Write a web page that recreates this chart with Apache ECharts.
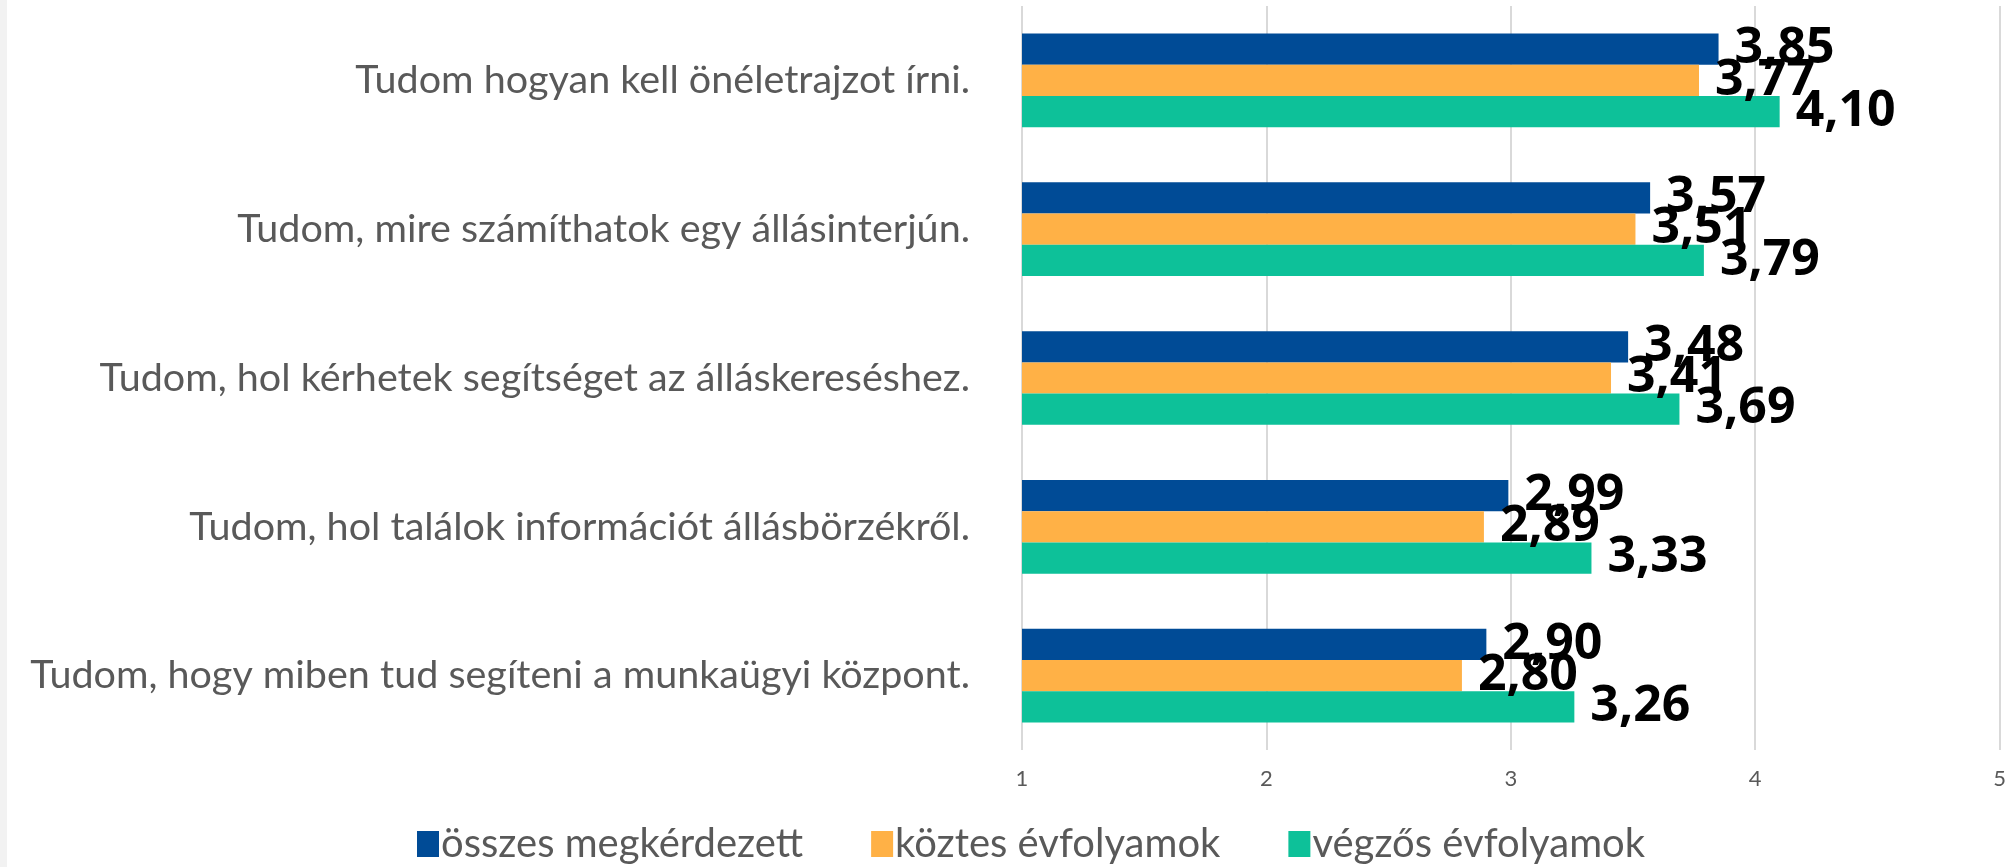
<!DOCTYPE html>
<html>
<head>
<meta charset="utf-8">
<script src="https://cdn.jsdelivr.net/npm/echarts@6/dist/echarts.min.js"></script>
<style>
  html, body { margin: 0; padding: 0; background: #fff; }
  #chart { width: 2009px; height: 867px; }
</style>
</head>
<body>
<div id="chart"></div>
<script>
var categories = [
    'Tudom hogyan kell önéletrajzot írni.',
    'Tudom, mire számíthatok egy állásinterjún.',
    'Tudom, hol kérhetek segítséget az álláskereséshez.',
    'Tudom, hol találok információt állásbörzékről.',
    'Tudom, hogy miben tud segíteni a munkaügyi központ.'
];
var seriesNames = ['összes megkérdezett', 'köztes évfolyamok', 'végzős évfolyamok'];
var osszes = [3.85, 3.57, 3.48, 2.99, 2.90];
var koztes = [3.77, 3.51, 3.41, 2.89, 2.80];
var vegzos = [4.10, 3.79, 3.69, 3.33, 3.26];
var xTicks = [1, 2, 3, 4, 5];

var chart = echarts.init(document.getElementById('chart'));

function makeSeries(name, data, color) {
    return {
        name: name,
        type: 'bar',
        data: data,
        barGap: '0%',
        barCategoryGap: '37%',
        itemStyle: { color: color },
        label: {
            show: true,
            position: 'right',
            distance: 16,
            color: '#000',
            fontFamily: 'Open Sans',
            fontWeight: 'bold',
            fontSize: 50,
            formatter: function (p) {
                return p.value.toFixed(2).replace('.', ',');
            }
        }
    };
}

var option = {
    animation: false,
    backgroundColor: '#fff',
    graphic: [{
        type: 'rect',
        left: 0, top: 0,
        shape: { width: 7, height: 867 },
        style: { fill: '#f2f2f2' },
        silent: true
    }],
    legend: {
        data: seriesNames,
        left: 412,
        top: 819,
        itemWidth: 22,
        itemHeight: 26,
        itemGap: 68,
        icon: 'rect',
        textStyle: {
            color: '#595959',
            fontFamily: 'Lato',
            fontSize: 40,
            padding: [0, 0, 0, -3]
        }
    },
    grid: {
        left: 1022,
        right: 6,
        top: 6,
        bottom: 117
    },
    xAxis: {
        type: 'value',
        min: xTicks[0],
        max: xTicks[xTicks.length - 1],
        interval: 1,
        axisLine: { show: false },
        axisTick: { show: false },
        splitLine: { lineStyle: { color: '#d9d9d9', width: 2 } },
        axisLabel: {
            color: '#595959',
            fontFamily: 'Lato',
            fontSize: 22,
            margin: 18
        }
    },
    yAxis: {
        type: 'category',
        inverse: true,
        data: categories,
        axisLine: { show: false },
        axisTick: { show: false },
        axisLabel: {
            color: '#595959',
            fontFamily: 'Lato',
            fontSize: 39.5,
            margin: 52
        }
    },
    series: [
        makeSeries(seriesNames[0], osszes, '#004b96'),
        makeSeries(seriesNames[1], koztes, '#ffb146'),
        makeSeries(seriesNames[2], vegzos, '#0dc199')
    ]
};

chart.setOption(option);
</script>
</body>
</html>
